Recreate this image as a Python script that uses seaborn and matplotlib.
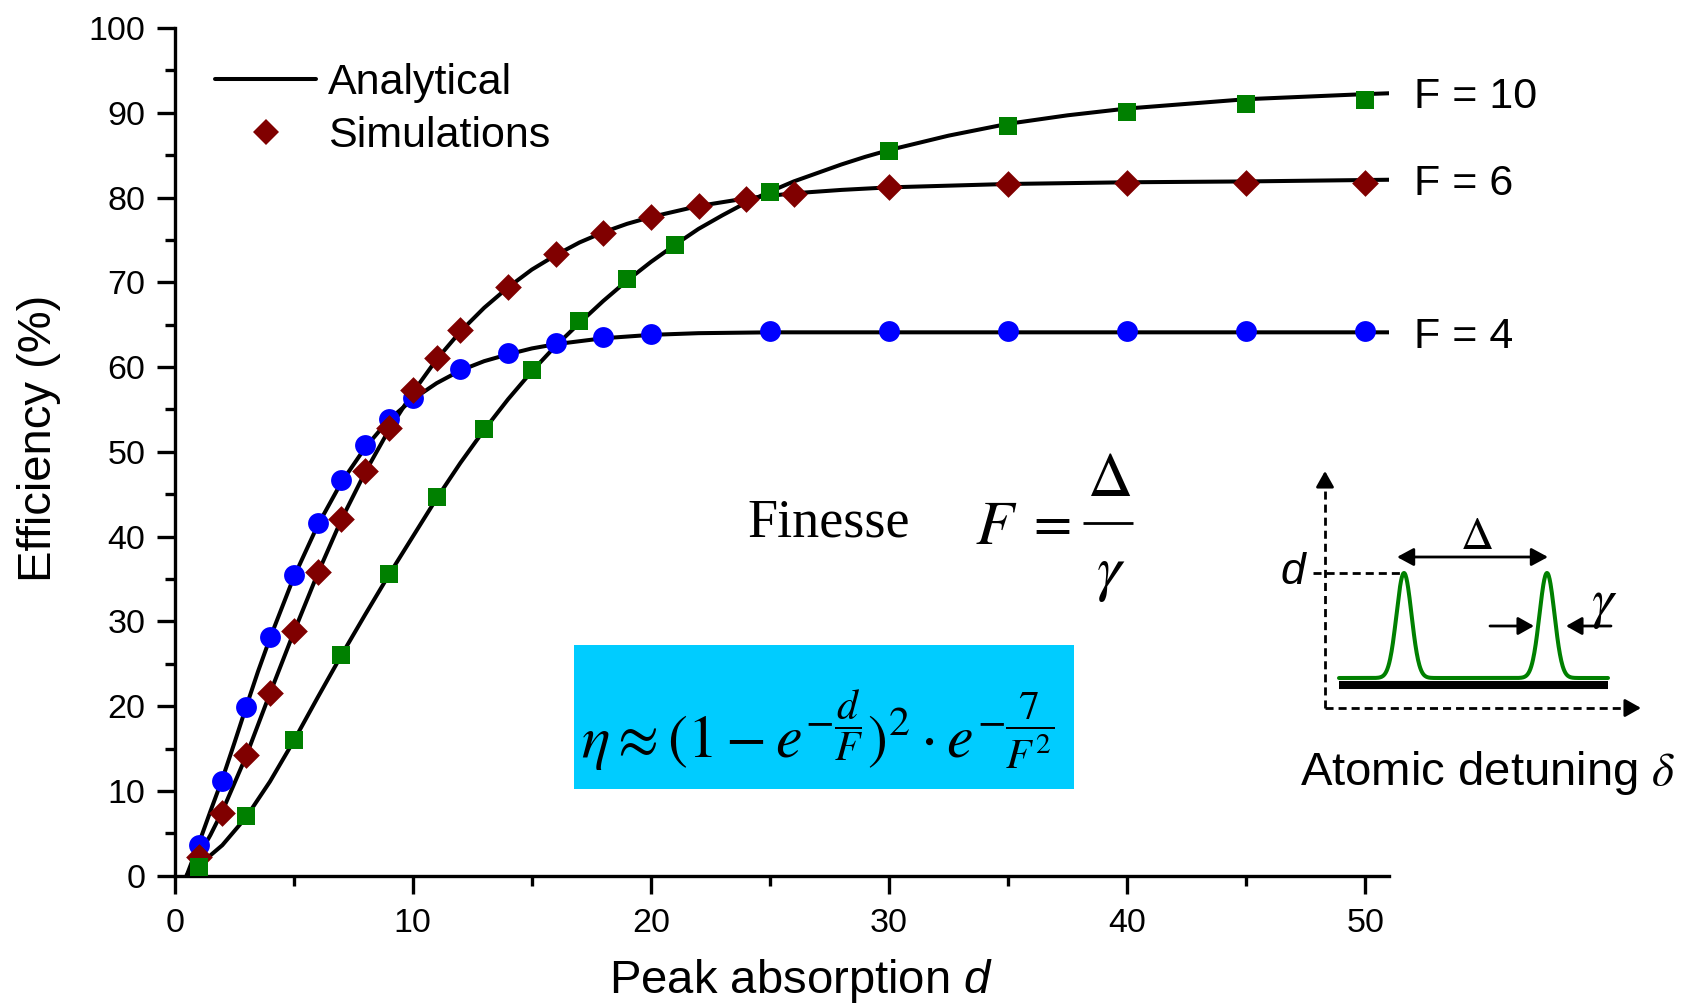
import numpy as np
import pandas as pd
import matplotlib
matplotlib.use("Agg")
import matplotlib.pyplot as plt
from matplotlib.lines import Line2D
from matplotlib.patches import Rectangle
import seaborn as sns

# ---------------- data ----------------
finesse = [4, 6, 10]
fin_labels = ["F = 4", "F = 6", "F = 10"]

# simulations
sim_d_f4 = [1, 2, 3, 4, 5, 6, 7, 8, 9, 10, 12, 14, 16, 18, 20, 25, 30, 35, 40, 45, 50]
sim_e_f4 = [3.6, 11.2, 19.9, 28.1, 35.5, 41.6, 46.7, 50.8, 53.9, 56.4, 59.8, 61.7, 62.8,
            63.5, 63.9, 64.2, 64.2, 64.2, 64.2, 64.2, 64.2]
sim_d_f6 = [1, 2, 3, 4, 5, 6, 7, 8, 9, 10, 11, 12, 14, 16, 18, 20, 22, 24, 26, 30, 35, 40, 45, 50]
sim_e_f6 = [2.2, 7.4, 14.2, 21.6, 28.9, 35.8, 42.1, 47.7, 52.8, 57.3, 61.1, 64.4, 69.5, 73.3,
            75.8, 77.7, 79.0, 79.8, 80.4, 81.2, 81.6, 81.7, 81.7, 81.7]
sim_d_f10 = [1, 3, 5, 7, 9, 11, 13, 15, 17, 19, 21, 25, 30, 35, 40, 45, 50]
sim_e_f10 = [1.0, 7.0, 16.0, 26.0, 35.6, 44.7, 52.7, 59.7, 65.4, 70.4, 74.4, 80.7, 85.5,
             88.4, 90.1, 91.0, 91.5]

# analytical curves (traced)
ana_d_f4 = [0.5, 1, 1.5, 2, 2.5, 3, 3.5, 4, 5, 6, 7, 8, 9, 10, 11, 12, 13, 14, 15, 16, 18,
            20, 22, 25, 30, 40, 51]
ana_e_f4 = [0.0, 3.7, 7.6, 11.4, 15.6, 19.9, 24.1, 28.0, 35.2, 41.3, 46.4, 50.5, 53.8, 56.2,
            58.1, 59.6, 60.7, 61.5, 62.2, 62.7, 63.4, 63.8, 64.0, 64.1, 64.1, 64.1, 64.1]
ana_d_f6 = [0.5, 1, 1.5, 2, 3, 4, 5, 6, 7, 8, 9, 10, 11, 12, 13, 14, 15, 16, 17, 18, 19, 20,
            22, 24, 26, 28, 30, 35, 40, 45, 51]
ana_e_f6 = [0.0, 2.3, 4.8, 7.6, 14.1, 21.5, 28.7, 35.6, 42.0, 47.6, 52.6, 57.0, 60.9, 64.2,
            67.0, 69.4, 71.5, 73.2, 74.7, 75.9, 76.9, 77.7, 79.0, 79.9, 80.5, 80.9, 81.2,
            81.6, 81.8, 81.9, 82.1]
ana_d_f10 = [0.5, 1, 2, 3, 4, 5, 6, 7, 8, 9, 10, 11, 12, 13, 14, 15, 16, 17, 18, 19, 20, 21,
             22, 23, 24, 25, 26, 27, 28, 29, 30, 32.5, 35, 37.5, 40, 45, 50, 51]
ana_e_f10 = [0.0, 1.2, 3.6, 6.9, 11.1, 15.9, 21.0, 26.0, 30.8, 35.5, 40.0, 44.5, 48.7, 52.6,
             56.2, 59.5, 62.5, 65.2, 67.8, 70.2, 72.4, 74.4, 76.3, 77.9, 79.4, 80.7, 81.9,
             82.9, 83.9, 84.8, 85.6, 87.3, 88.7, 89.7, 90.5, 91.6, 92.2, 92.3]

x_ticks = [0, 10, 20, 30, 40, 50]
y_ticks = [0, 10, 20, 30, 40, 50, 60, 70, 80, 90, 100]
label_y = [64.1, 82.1, 92.4]

# ---------------- style ----------------
sns.set_theme(style="ticks")
plt.rcParams["font.family"] = ["Liberation Sans", "DejaVu Sans"]
plt.rcParams["mathtext.fontset"] = "custom"
plt.rcParams["mathtext.rm"] = "Liberation Sans"
plt.rcParams["mathtext.it"] = "Liberation Sans:italic"
plt.rcParams["mathtext.bf"] = "Liberation Sans:bold"
for k in ["text.color", "axes.labelcolor", "xtick.color", "ytick.color",
          "xtick.labelcolor", "ytick.labelcolor", "axes.edgecolor"]:
    plt.rcParams[k] = "black"

colors = {4: "#0000FF", 6: "#800000", 10: "#008000"}
markers = {4: "o", 6: "D", 10: "s"}
msizes = {4: 225, 6: 185, 10: 180}

W, H = 1691, 1006
fig = plt.figure(figsize=(W / 100, H / 100), dpi=100)
ax = fig.add_axes([174.7 / W, 1 - 875.7 / H, (1389 - 174.7) / W, (875.7 - 28) / H])

ana = pd.DataFrame({
    "d": ana_d_f4 + ana_d_f6 + ana_d_f10,
    "eta": ana_e_f4 + ana_e_f6 + ana_e_f10,
    "F": [4] * len(ana_d_f4) + [6] * len(ana_d_f6) + [10] * len(ana_d_f10),
})
sim = pd.DataFrame({
    "d": sim_d_f4 + sim_d_f6 + sim_d_f10,
    "eta": sim_e_f4 + sim_e_f6 + sim_e_f10,
    "F": [4] * len(sim_d_f4) + [6] * len(sim_d_f6) + [10] * len(sim_d_f10),
})

sns.lineplot(data=ana, x="d", y="eta", units="F", estimator=None, sort=False,
             color="black", lw=2.9, legend=False, ax=ax, zorder=2)
for F in finesse:
    sns.scatterplot(data=sim[sim["F"] == F], x="d", y="eta", marker=markers[F],
                    color=colors[F], s=msizes[F], linewidth=0, legend=False, ax=ax,
                    zorder=3)

ax.set_xlim(0, 51)
ax.set_ylim(0, 100)
ax.set_xticks(x_ticks)
ax.set_yticks(y_ticks)
ax.set_xticks(np.arange(5, 51, 10), minor=True)
ax.set_yticks(np.arange(5, 100, 10), minor=True)
ax.tick_params(axis="both", which="major", length=13, width=2.4, labelsize=24.5,
               direction="out", colors="black")
ax.tick_params(axis="y", which="major", pad=8)
ax.tick_params(axis="x", which="major", pad=10)
ax.tick_params(axis="both", which="minor", length=7, width=2.4, direction="out")
for s in ["top", "right"]:
    ax.spines[s].set_visible(False)
for s in ["left", "bottom"]:
    ax.spines[s].set_linewidth(2.4)
    ax.spines[s].set_color("black")
ax.grid(False)
ax.set_xlabel("Peak absorption $d$", fontsize=34, labelpad=13)
ax.set_ylabel("Efficiency (%)", fontsize=34, labelpad=20)
ax.xaxis.label.set_x(0.516)
ax.yaxis.label.set_y(0.516)

# F labels at the curve ends
for lab, yv in zip(fin_labels, label_y):
    ax.text(52.05, yv - 0.5, lab, fontsize=31, ha="left", va="center", clip_on=False)

# legend
handles = [Line2D([], [], color="black", lw=2.9),
           Line2D([], [], color=colors[6], marker="D", ls="none", markersize=13.5,
                  markeredgewidth=0)]
ax.legend(handles, ["Analytical", "Simulations"], loc="upper left",
          bbox_to_anchor=(215 / W, 1 - 63 / H), bbox_transform=fig.transFigure,
          frameon=False, fontsize=31, handlelength=2.35, handletextpad=0.27,
          borderpad=0, borderaxespad=0, labelspacing=0.3)

# ---------------- overlay (annotations in pixel space) ----------------
ov = fig.add_axes([0, 0, 1, 1], zorder=5)
ov.set_xlim(0, W)
ov.set_ylim(H, 0)
ov.axis("off")

ov.text(829, 523, "Finesse", family="Liberation Serif", fontsize=39,
        ha="center", va="center")
ov.text(975, 527, r"$F$", math_fontfamily="stix", fontsize=45, ha="left", va="center")
ov.text(1048, 525, r"$=$", math_fontfamily="stix", fontsize=40, ha="center", va="center")
ov.text(1109, 480, r"$\Delta$", math_fontfamily="stix", fontsize=45,
        ha="center", va="center")
ov.plot([1083, 1133], [523, 523], color="black", lw=2.0, solid_capstyle="butt")
ov.text(1111, 575, r"$\gamma$", math_fontfamily="stix", fontsize=45,
        ha="center", va="center")

ov.add_patch(Rectangle((574, 645), 500, 144, facecolor="#00CCFF", edgecolor="none"))
ov.text(581, 758,
        r"$\eta \approx (1 - e^{-\dfrac{d}{F}})^2 \cdot e^{-\dfrac{7}{F^2}}$",
        math_fontfamily="stix", fontsize=43, ha="left", va="baseline")

# inset schematic
dash = (0, (2.9, 1.8))
ov.plot([1325, 1325], [708, 484], color="black", lw=2.0, linestyle=dash)
ov.plot([1325, 1628], [708, 708], color="black", lw=2.0, linestyle=dash)
ov.plot([1313, 1400], [573, 573], color="black", lw=2.0, linestyle=dash)
head = dict(arrowstyle="-|>,head_length=0.48,head_width=0.27", color="black",
            lw=2.0, shrinkA=0, shrinkB=0, mutation_scale=20)
ov.annotate("", xy=(1325, 471), xytext=(1325, 486), arrowprops=head)
ov.annotate("", xy=(1641, 708), xytext=(1626, 708), arrowprops=head)

ov.plot([1339, 1608], [685, 685], color="black", lw=5.8, solid_capstyle="butt")
peak_x = [1404, 1547]
xs = np.linspace(1339, 1608, 600)
sig = 7.5
ys = 678 - 105 * sum(np.exp(-(xs - p) ** 2 / (2 * sig ** 2)) for p in peak_x)
ov.plot(xs, ys, color="#008000", lw=2.9)

ov.annotate("", xy=(1397, 557), xytext=(1548, 557),
            arrowprops=dict(arrowstyle="<|-|>,head_length=0.5,head_width=0.27",
                            color="black", lw=2.0, shrinkA=0, shrinkB=0,
                            mutation_scale=20))
ov.text(1476, 537, r"$\Delta$", math_fontfamily="stix", fontsize=33,
        ha="center", va="center")
ov.annotate("", xy=(1534, 626), xytext=(1490, 626), arrowprops=head)
ov.annotate("", xy=(1566, 626), xytext=(1611, 626), arrowprops=head)
ov.text(1604, 605, r"$\gamma$", math_fontfamily="stix", fontsize=40,
        ha="center", va="center")
ov.text(1293, 572, "d", fontstyle="italic", fontsize=32, ha="center", va="center")
ov.text(1300, 785, r"Atomic detuning $\delta$", math_fontfamily="stix", fontsize=34,
        ha="left", va="baseline")

fig.savefig("out.png", dpi=100, facecolor="white")
